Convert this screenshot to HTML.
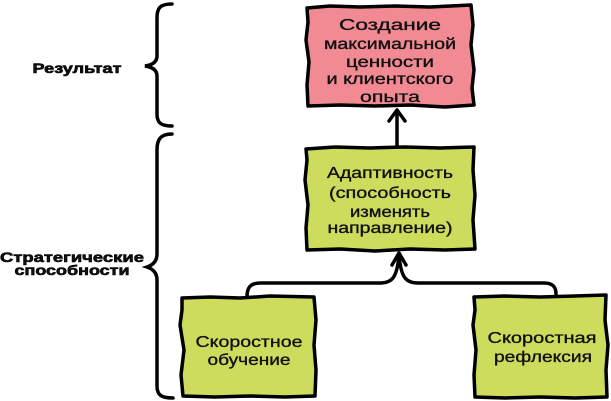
<!DOCTYPE html>
<html><head><meta charset="utf-8"><style>
html,body{margin:0;padding:0;background:#fff;}
svg{display:block;}
text{font-family:"Liberation Sans","DejaVu Sans",sans-serif;fill:#111;}
.t{stroke:#111;stroke-width:0.35;}
.b{stroke:#000;stroke-width:0.6;}
</style></head><body>
<svg width="611" height="401" viewBox="0 0 611 401" xmlns="http://www.w3.org/2000/svg">
<!-- braces -->
<path d="M172,4 C160,4 157,8 157,18 L157,56 C157,62 152,65 145,66 C152,67 157,70 157,76 L157,114 C157,122 160,126 172,126" fill="none" stroke="#000" stroke-width="3.5" stroke-linecap="round"/>
<path d="M172,134 C160,134 157,140 157,150 L157,254 C157,261 153,265 147,267 C153,269 157,273 157,280 L157,386 C157,394 160,398 173,398" fill="none" stroke="#000" stroke-width="3.5" stroke-linecap="round"/>
<text class="b" x="77" y="73" text-anchor="middle" font-size="14" font-weight="bold" textLength="89" lengthAdjust="spacingAndGlyphs">Результат</text>
<text class="b" x="72" y="262" text-anchor="middle" font-size="14" font-weight="bold" textLength="144" lengthAdjust="spacingAndGlyphs">Стратегические</text>
<text class="b" x="72" y="275" text-anchor="middle" font-size="14" font-weight="bold" textLength="115" lengthAdjust="spacingAndGlyphs">способности</text>

<!-- red box -->
<path d="M307,8 L330,6 L360,7 L395,6 L430,7 L471,5 L473,25 L471,45 L474,70 L472,88 L474,105 L445,107 L410,105 L375,106 L340,105 L308,106 L307,85 L309,62 L306,40 L308,22 Z" fill="#f28a93" stroke="#000" stroke-width="3.5" stroke-linejoin="round"/>
<g font-size="16" text-anchor="middle" class="t">
<text x="390" y="30" textLength="102" lengthAdjust="spacingAndGlyphs">Создание</text>
<text x="390" y="49" textLength="132" lengthAdjust="spacingAndGlyphs">максимальной</text>
<text x="390" y="67" textLength="88" lengthAdjust="spacingAndGlyphs">ценности</text>
<text x="390" y="84" textLength="127" lengthAdjust="spacingAndGlyphs">и клиентского</text>
<text x="390" y="102" textLength="60" lengthAdjust="spacingAndGlyphs">опыта</text>
</g>

<!-- arrow up -->
<path d="M397,147 L397,111" fill="none" stroke="#000" stroke-width="3.5"/>
<path d="M389,121 L397,110 L405,121" fill="none" stroke="#000" stroke-width="3.5" stroke-linejoin="round" stroke-linecap="round"/>

<!-- adaptivnost box -->
<path d="M306,149 L335,147 L370,148 L405,147 L440,148 L474,147 L473,170 L475,195 L473,220 L475,249 L445,250 L410,249 L375,251 L340,249 L307,250 L306,228 L308,205 L305,180 L307,160 Z" fill="#cddc5c" stroke="#000" stroke-width="3.5" stroke-linejoin="round"/>
<g font-size="16" text-anchor="middle" class="t">
<text x="390" y="178" textLength="126" lengthAdjust="spacingAndGlyphs">Адаптивность</text>
<text x="390" y="198" textLength="122" lengthAdjust="spacingAndGlyphs">(способность</text>
<text x="390" y="217" textLength="80" lengthAdjust="spacingAndGlyphs">изменять</text>
<text x="390" y="233" textLength="125" lengthAdjust="spacingAndGlyphs">направление)</text>
</g>

<!-- connector -->
<path d="M247,297 C247,288 250,283 260,283 L380,283 C392,283 397,278 399,255" fill="none" stroke="#000" stroke-width="3.5" stroke-linecap="round"/>
<path d="M556,294 C556,287 553,283 544,283 L418,283 C406,283 401,278 399,255" fill="none" stroke="#000" stroke-width="3.5" stroke-linecap="round"/>
<path d="M392,265 L399,253 L406,265" fill="none" stroke="#000" stroke-width="3.5" stroke-linejoin="round" stroke-linecap="round"/>

<!-- bottom left box -->
<path d="M182,298 L210,297 L240,298 L270,296 L314,297 L316,320 L314,345 L316,370 L315,396 L285,397 L250,396 L215,397 L183,396 L181,375 L184,350 L180,325 L182,310 Z" fill="#cddc5c" stroke="#000" stroke-width="3.5" stroke-linejoin="round"/>
<g font-size="16" text-anchor="middle" class="t">
<text x="249" y="347" textLength="107" lengthAdjust="spacingAndGlyphs">Скоростное</text>
<text x="249" y="365" textLength="83" lengthAdjust="spacingAndGlyphs">обучение</text>
</g>

<!-- bottom right box -->
<path d="M474,297 L505,296 L540,297 L575,296 L606,295 L605,320 L608,345 L606,370 L607,397 L575,398 L540,397 L505,398 L475,397 L474,375 L476,350 L473,325 L475,310 Z" fill="#cddc5c" stroke="#000" stroke-width="3.5" stroke-linejoin="round"/>
<g font-size="16" text-anchor="middle" class="t">
<text x="542" y="343" textLength="109" lengthAdjust="spacingAndGlyphs">Скоростная</text>
<text x="543" y="362" textLength="98" lengthAdjust="spacingAndGlyphs">рефлексия</text>
</g>
</svg>
</body></html>
